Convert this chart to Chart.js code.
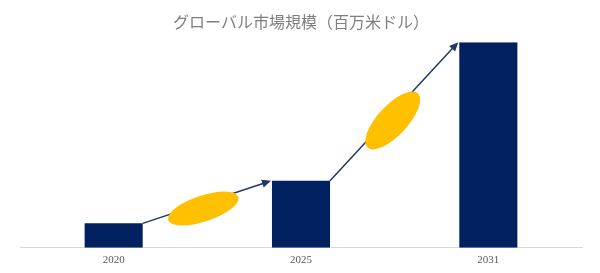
<!DOCTYPE html>
<html>
<head>
<meta charset="utf-8">
<script src="https://cdn.jsdelivr.net/npm/chart.js@4"></script>
<style>
 html, body { margin: 0; padding: 0; background: #fff; }
 #wrap { width: 600px; height: 273px; }
</style>
</head>
<body>
<div id="wrap"><canvas id="marketChart"></canvas></div>
<script>
const years = ['2020', '2025', '2031'];
const marketSize = [119, 326, 1000]; // 百万米ドル
const chartTitle = 'グローバル市場規模（百万米ドル）';

// arrows between bar tops, with a yellow ellipse sitting on each arrow
const growthArrows = {
 id: 'growthArrows',
 afterDatasetsDraw(chart) {
  const ctx = chart.ctx;
  const bars = chart.getDatasetMeta(0).data;
  for (let i = 0; i < bars.length - 1; i++) {
   const a = bars[i], b = bars[i + 1];
   const x1 = a.x + a.width / 2, y1 = a.y;
   const x2 = b.x - b.width / 2 - 1, y2 = b.y;
   const ang = Math.atan2(y2 - y1, x2 - x1);

   ctx.save();
   ctx.strokeStyle = '#1f3864';
   ctx.fillStyle = '#1f3864';
   ctx.lineWidth = 1.5;
   ctx.beginPath();
   ctx.moveTo(x1, y1);
   ctx.lineTo(x2 - 6 * Math.cos(ang), y2 - 6 * Math.sin(ang));
   ctx.stroke();
   // arrow head
   ctx.beginPath();
   ctx.moveTo(x2, y2);
   ctx.lineTo(x2 - 9 * Math.cos(ang) + 4 * Math.sin(ang), y2 - 9 * Math.sin(ang) - 4 * Math.cos(ang));
   ctx.lineTo(x2 - 9 * Math.cos(ang) - 4 * Math.sin(ang), y2 - 9 * Math.sin(ang) + 4 * Math.cos(ang));
   ctx.closePath();
   ctx.fill();

   // ellipse
   const t = 0.46, off = 5;
   const cx = x1 + (x2 - x1) * t - Math.sin(ang) * off;
   const cy = y1 + (y2 - y1) * t + Math.cos(ang) * off;
   const rx = 37, ry = i === 0 ? 13 : 15;
   ctx.fillStyle = '#ffc000';
   ctx.beginPath();
   ctx.ellipse(cx, cy, rx, ry, ang, 0, Math.PI * 2);
   ctx.fill();
   ctx.restore();
  }
 }
};

new Chart(document.getElementById('marketChart').getContext('2d'), {
 type: 'bar',
 data: {
  labels: years,
  datasets: [{
   data: marketSize,
   backgroundColor: '#002060',
   borderWidth: 0,
   categoryPercentage: 1,
   barPercentage: 0.31
  }]
 },
 options: {
  responsive: true,
  maintainAspectRatio: false,
  animation: false,
  layout: { padding: { left: 20, right: 18, top: 0, bottom: 0 } },
  plugins: {
   legend: { display: false },
   tooltip: { enabled: false },
   title: {
    display: true,
    text: chartTitle,
    color: '#7f7f7f',
    font: { family: '"Noto Sans CJK JP", "Noto Sans", sans-serif', size: 16, weight: 'normal' },
    padding: { top: 12, bottom: 11 }
   }
  },
  scales: {
   x: {
    grid: { display: false, drawTicks: false },
    border: { display: true, color: '#d9d9d9', width: 1 },
    ticks: {
     color: '#595959',
     padding: 10,
     font: { family: '"Liberation Serif", "Times New Roman", serif', size: 11, lineHeight: 0.47 }
    }
   },
   y: {
    display: false,
    min: 0,
    max: 1000
   }
  }
 },
 plugins: [growthArrows]
});
</script>
</body>
</html>
